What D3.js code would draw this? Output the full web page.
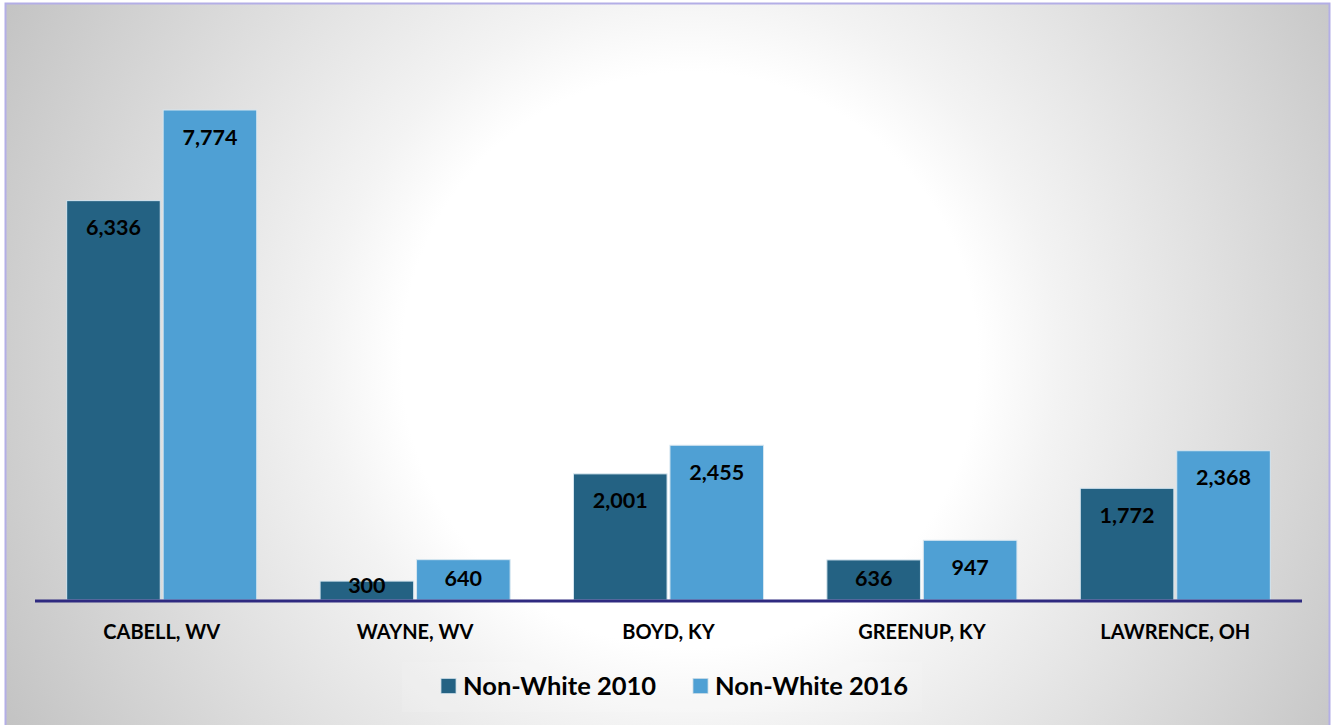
<!DOCTYPE html>
<html>
<head>
<meta charset="utf-8">
<script src="https://cdn.jsdelivr.net/npm/d3@7"></script>
<style>
  body { margin: 0; background: #fff; }
  svg { display: block; font-family: Lato, "Open Sans", sans-serif; }
</style>
</head>
<body>
<div id="chart"></div>
<script>
// 数据
const counties = ["CABELL, WV", "WAYNE, WV", "BOYD, KY", "GREENUP, KY", "LAWRENCE, OH"];
const series = ["Non-White 2010", "Non-White 2016"];
const values2010 = [6336, 300, 2001, 636, 1772];
const values2016 = [7774, 640, 2455, 947, 2368];
const colors = ["#246283", "#4fa0d4"];

const width = 1335, height = 725;
const baseline = 600;

const svg = d3.select("#chart").append("svg")
  .attr("width", width).attr("height", height);

// 背景渐变
const defs = svg.append("defs");
const grad = defs.append("radialGradient").attr("id", "bg")
  .attr("gradientUnits", "userSpaceOnUse")
  .attr("cx", 690).attr("cy", 360).attr("r", 800);
grad.append("stop").attr("offset", 0).attr("stop-color", "#ffffff");
grad.append("stop").attr("offset", 0.36).attr("stop-color", "#ffffff");
grad.append("stop").attr("offset", 0.46).attr("stop-color", "#f3f3f3");
grad.append("stop").attr("offset", 1).attr("stop-color", "#c0c0c0");

svg.append("rect")
  .attr("x", 5.5).attr("y", 3.5).attr("width", 1324).attr("height", 740)
  .attr("fill", "url(#bg)").attr("stroke", "#b3aee6").attr("stroke-width", 2);

// 比例尺
const x0 = d3.scaleBand().domain(counties).range([35, 1302]).paddingInner(0.25).paddingOuter(0.125);
const x1 = d3.scaleBand().domain(series).range([0, x0.bandwidth()]).paddingInner(0.03);
const y = d3.scaleLinear().domain([0, 7774]).range([baseline, 110]);

const rows = counties.map((c, i) => ({ county: c, vals: [values2010[i], values2016[i]] }));

const fmt = d3.format(",");

const groups = svg.append("g").selectAll("g")
  .data(rows).join("g")
  .attr("transform", d => `translate(${x0(d.county)},0)`);

const cells = groups.selectAll("g")
  .data(d => d.vals.map((v, j) => ({ key: series[j], v, j })))
  .join("g");

cells.append("rect")
  .attr("x", d => x1(d.key))
  .attr("y", d => y(d.v))
  .attr("width", x1.bandwidth())
  .attr("height", d => baseline - y(d.v))
  .attr("fill", d => colors[d.j])
  .attr("stroke", "#d6e6f0").attr("stroke-width", 1);

cells.append("text")
  .attr("x", d => x1(d.key) + x1.bandwidth() / 2)
  .attr("y", d => {
    const top = y(d.v);
    return Math.min(top + 27, Math.max(top + 4, baseline - 22));
  })
  .attr("dy", "0.35em")
  .attr("text-anchor", "middle")
  .attr("font-weight", 700).attr("font-size", 21.5).attr("fill", "#000")
  .text(d => fmt(d.v));

// 坐标轴
svg.append("line")
  .attr("x1", 35).attr("x2", 1302).attr("y1", baseline + 1).attr("y2", baseline + 1)
  .attr("stroke", "#2f2a80").attr("stroke-width", 3);

const xAxis = svg.append("g")
  .attr("transform", `translate(0,${baseline})`)
  .call(d3.axisBottom(x0).tickSize(0).tickPadding(25));
xAxis.select(".domain").remove();
xAxis.selectAll("text")
  .attr("font-family", "Lato, 'Open Sans', sans-serif")
  .attr("font-size", 20).attr("font-weight", 700).attr("fill", "#000");

// 图例
const legend = svg.append("g");
legend.append("rect")
  .attr("x", 402).attr("y", 662).attr("width", 520).attr("height", 50)
  .attr("fill", "#ffffff").attr("opacity", 0.1);
const legendX = [441, 693];
const li = legend.selectAll("g.item").data(series).join("g")
  .attr("class", "item")
  .attr("transform", (d, i) => `translate(${legendX[i]},686)`);
li.append("rect")
  .attr("x", 0).attr("y", -7.5).attr("width", 15).attr("height", 15)
  .attr("fill", (d, i) => colors[i]).attr("stroke", "#c9dbe6").attr("stroke-width", 0.8);
li.append("text")
  .attr("x", 22).attr("dy", "0.36em")
  .attr("font-size", 25.5).attr("font-weight", 700).attr("fill", "#000")
  .text(d => d);
</script>
</body>
</html>
